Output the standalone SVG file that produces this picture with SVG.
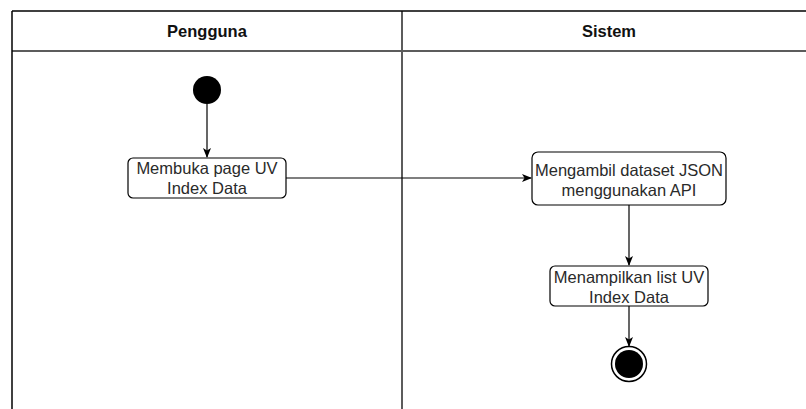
<svg xmlns="http://www.w3.org/2000/svg" width="806" height="409" viewBox="0 0 806 409">
  <style>
    .frame { fill: none; stroke: #000; stroke-width: 1.5; }
    .lane { fill: none; stroke: #5c5c5c; stroke-width: 2; }
    .head { font-family: "Liberation Sans", Arial, sans-serif; font-size: 16.5px; font-weight: bold; fill: #111; text-anchor: middle; }
    .label { font-family: "Liberation Sans", Arial, sans-serif; font-size: 16.5px; fill: #2a2a2a; text-anchor: middle; }
    .act { fill: #fff; stroke: #000; stroke-width: 1.2; }
    .edge { fill: none; stroke: #000; stroke-width: 1.2; }
  </style>
  <defs>
    <marker id="arrow" markerWidth="10" markerHeight="10" refX="9" refY="5" orient="auto" markerUnits="userSpaceOnUse">
      <path d="M0,1 L10,5 L0,9 L2.5,5 Z" fill="#000"/>
    </marker>
  </defs>
  <rect width="806" height="409" fill="#fff"/>

  <!-- swimlane pool -->
  <g id="pool">
    <line class="lane" x1="12" y1="51" x2="806" y2="51"/>
    <line class="lane" x1="402" y1="11" x2="402" y2="409"/>
    <line class="frame" x1="12" y1="11" x2="806" y2="11"/>
    <line class="frame" x1="12" y1="11" x2="12" y2="409"/>
    <text class="head" x="207" y="36.5">Pengguna</text>
    <text class="head" x="609" y="36.5">Sistem</text>
  </g>

  <!-- connectors -->
  <g id="edges">
    <line class="edge" x1="207" y1="104" x2="207" y2="157" marker-end="url(#arrow)"/>
    <line class="edge" x1="286" y1="178" x2="531" y2="178" marker-end="url(#arrow)"/>
    <line class="edge" x1="629" y1="205" x2="629" y2="265" marker-end="url(#arrow)"/>
    <line class="edge" x1="629" y1="306" x2="629" y2="346" marker-end="url(#arrow)"/>
  </g>

  <g id="start">
    <circle cx="207" cy="90" r="14" fill="#000"/>
  </g>

  <g id="buka-page">
    <rect class="act" x="128" y="158" width="158" height="40" rx="5"/>
    <text class="label" x="207" y="174">Membuka page UV</text>
    <text class="label" x="207" y="194">Index Data</text>
  </g>

  <g id="ambil-dataset">
    <rect class="act" x="532" y="152" width="194" height="53" rx="6"/>
    <text class="label" x="629" y="176">Mengambil dataset JSON</text>
    <text class="label" x="629" y="196">menggunakan API</text>
  </g>

  <g id="tampilkan-list">
    <rect class="act" x="550" y="266" width="158" height="40" rx="5"/>
    <text class="label" x="629" y="282.5">Menampilkan list UV</text>
    <text class="label" x="629" y="302.5">Index Data</text>
  </g>

  <g id="end">
    <circle cx="629" cy="364" r="17.5" fill="#fff" stroke="#000" stroke-width="1.5"/>
    <circle cx="629" cy="364" r="14" fill="#000"/>
  </g>
</svg>
